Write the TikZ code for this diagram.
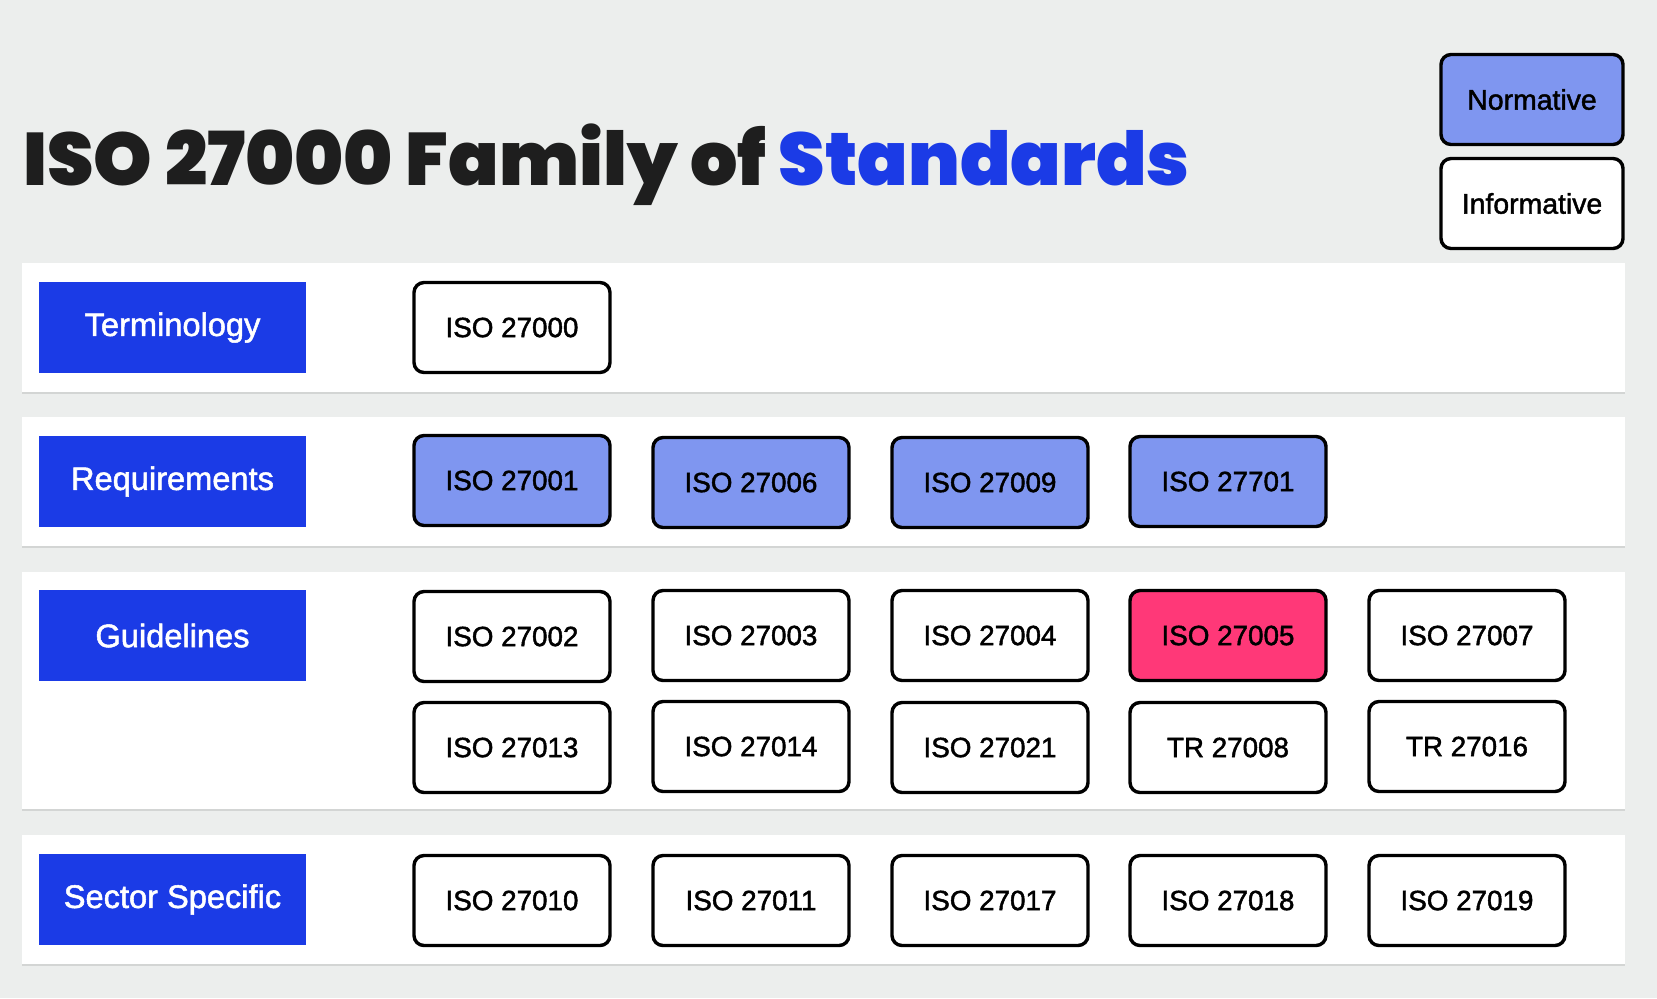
\documentclass[tikz,border=0pt]{standalone}
\usepackage{fontspec}
\setmainfont{Liberation Sans}
\newfontfamily\boxfont{Liberation Sans}[FakeBold=1.6]
\newfontfamily\titlefont{Poppins}[UprightFont=* Black]
\usetikzlibrary{shadows}
\definecolor{bg}{HTML}{ECEEED}
\definecolor{labelblue}{HTML}{1B3BE6}
\definecolor{normfill}{HTML}{7F96F0}
\definecolor{pinkfill}{HTML}{FF3878}
\definecolor{titledark}{HTML}{1E1E1E}
\tikzset{
  panel/.style={fill=white, draw=none, drop shadow={shadow xshift=0pt, shadow yshift=-1.2pt, opacity=0.10, fill=black}},
  catlabel/.style={fill=labelblue, draw=none, text=white, minimum width=133.5pt, minimum height=45.5pt, inner sep=0pt, font=\boxfont\fontsize{16.3}{19}\selectfont},
  stdbox/.style={draw=black, line width=1.7pt, rounded corners=5pt, fill=white, minimum width=98pt, minimum height=45pt, inner sep=0pt, font=\boxfont\fontsize{13.9}{16}\selectfont},
  normbox/.style={stdbox, fill=normfill},
  pinkbox/.style={stdbox, fill=pinkfill},
  legendbox/.style={minimum width=91pt, minimum height=45pt, font=\boxfont\fontsize{14.2}{16}\selectfont},
}
\begin{document}
\begin{tikzpicture}[x=0.5pt,y=-0.5pt]
\fill[bg] (0,0) rectangle (1657,998);
\useasboundingbox (0,0) rectangle (1657,998);
% title
\node[anchor=base west, inner sep=0pt, font=\titlefont\fontsize{37.2}{44}\selectfont, text=titledark] (title) at (23,185) {ISO 27000 Family of \textcolor{labelblue}{Standards}};
% legend
\node[normbox, legendbox] (normative) at (1532,99.5) {Normative};
\node[stdbox, legendbox] (informative) at (1532,203.5) {Informative};
% panels
\fill[panel] (22,263) rectangle (1625,392);
\fill[panel] (22,417) rectangle (1625,546);
\fill[panel] (22,572) rectangle (1625,809);
\fill[panel] (22,835) rectangle (1625,964);
% category labels
\node[catlabel] (terminology) at (172.5,327.5) {Terminology};
\node[catlabel] (requirements) at (172.5,481.5) {Requirements};
\node[catlabel] (guidelines) at (172.5,635.5) {Guidelines};
\node[catlabel] (sector) at (172.5,899.5) {Sector Specific};
% row 1
\node[stdbox] (s27000) at (512,327.5) {ISO 27000};
% row 2
\node[normbox] (s27001) at (512,480.5) {ISO 27001};
\node[normbox] (s27006) at (751,482.5) {ISO 27006};
\node[normbox] (s27009) at (990,482.5) {ISO 27009};
\node[normbox] (s27701) at (1228,481.5) {ISO 27701};
% row 3
\node[stdbox] (s27002) at (512,636.5) {ISO 27002};
\node[stdbox] (s27003) at (751,635.5) {ISO 27003};
\node[stdbox] (s27004) at (990,635.5) {ISO 27004};
\node[pinkbox] (s27005) at (1228,635.5) {ISO 27005};
\node[stdbox] (s27007) at (1467,635.5) {ISO 27007};
\node[stdbox] (s27013) at (512,747.5) {ISO 27013};
\node[stdbox] (s27014) at (751,746.5) {ISO 27014};
\node[stdbox] (s27021) at (990,747.5) {ISO 27021};
\node[stdbox] (t27008) at (1228,747.5) {TR 27008};
\node[stdbox] (t27016) at (1467,746.5) {TR 27016};
% row 4
\node[stdbox] (s27010) at (512,900.5) {ISO 27010};
\node[stdbox] (s27011) at (751,900.5) {ISO 27011};
\node[stdbox] (s27017) at (990,900.5) {ISO 27017};
\node[stdbox] (s27018) at (1228,900.5) {ISO 27018};
\node[stdbox] (s27019) at (1467,900.5) {ISO 27019};
\end{tikzpicture}
\end{document}
